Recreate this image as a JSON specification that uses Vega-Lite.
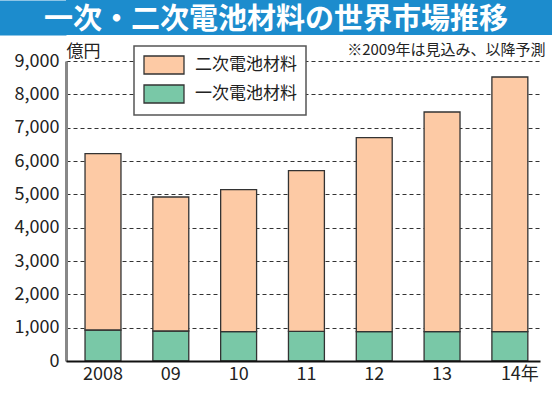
{
  "$schema": "https://vega.github.io/schema/vega-lite/v6.json",
  "background": "white",
  "padding": 0,
  "spacing": 7,
  "resolve": {"legend": {"color": "independent"}, "scale": {"color": "independent"}},
  "config": {
    "view": {"stroke": null},
    "font": "Noto Sans CJK JP",
    "legend": {"strokeWidth": 1.5}
  },
  "vconcat": [
    {
      "width": 486,
      "height": 35,
      "view": {"fill": "#1c8ccd", "stroke": null},
      "data": {"values": [{"t": "一次・二次電池材料の世界市場推移"}]},
      "mark": {"type": "text", "color": "white", "fontSize": 29, "fontWeight": "bold", "font": "Noto Sans CJK JP", "baseline": "middle", "align": "center", "dx": -33, "dy": 2},
      "encoding": {
        "text": {"field": "t", "type": "nominal"},
        "y": {
          "datum": 0.5, "type": "quantitative",
          "scale": {"domain": [0, 1], "nice": false},
          "axis": {"title": null, "labels": false, "ticks": false, "grid": false, "domain": true,
                   "domainColor": "#1c8ccd", "domainWidth": 132, "domainCap": "butt", "offset": 66}
        }
      }
    },
    {
      "width": 474,
      "height": 300,
      "data": {"values": [
        {"year": "2008", "series": "一次電池材料", "value": 930},
        {"year": "2008", "series": "二次電池材料", "value": 5290},
        {"year": "09", "series": "一次電池材料", "value": 900},
        {"year": "09", "series": "二次電池材料", "value": 4020},
        {"year": "10", "series": "一次電池材料", "value": 880},
        {"year": "10", "series": "二次電池材料", "value": 4260},
        {"year": "11", "series": "一次電池材料", "value": 890},
        {"year": "11", "series": "二次電池材料", "value": 4820},
        {"year": "12", "series": "一次電池材料", "value": 880},
        {"year": "12", "series": "二次電池材料", "value": 5820},
        {"year": "13", "series": "一次電池材料", "value": 880},
        {"year": "13", "series": "二次電池材料", "value": 6590},
        {"year": "14", "series": "一次電池材料", "value": 880},
        {"year": "14", "series": "二次電池材料", "value": 7640}
      ]},
      "mark": {"type": "bar", "stroke": "#333", "strokeWidth": 1.3},
      "encoding": {
        "x": {
          "field": "year", "type": "nominal", "sort": null,
          "scale": {"paddingInner": 0.47, "paddingOuter": 0.23, "align": 0.61},
          "axis": {
            "labelAngle": 0, "ticks": false,
            "domainColor": "#111", "domainWidth": 2, "zindex": 1,
            "labelFontSize": 18, "labelColor": "#222", "labelPadding": 4,
            "labelFont": "Noto Sans CJK JP",
            "labelExpr": "datum.value == '14' ? '14年' : datum.label",
            "labelOffset": {"condition": {"test": "datum.value == '14'", "value": 10}, "value": 0},
            "title": "※2009年は見込み、以降予測", "titleX": 479, "titleY": -307,
            "titleAlign": "right", "titleBaseline": "alphabetic", "titleAnchor": "end",
            "titleFontSize": 15, "titleFontWeight": "normal", "titleColor": "#222", "titleFont": "Noto Sans CJK JP"
          }
        },
        "y": {
          "field": "value", "type": "quantitative", "stack": "zero",
          "scale": {"domain": [0, 9000], "nice": false},
          "axis": {
            "values": [0, 1000, 2000, 3000, 4000, 5000, 6000, 7000, 8000, 9000],
            "format": ",.0f", "grid": true, "gridDash": [4, 3], "gridColor": "#333", "gridWidth": 1.2,
            "ticks": false, "domainColor": "#888", "domainWidth": 3,
            "labelFontSize": 18, "labelColor": "#222", "labelPadding": 7, "labelFont": "Noto Sans CJK JP",
            "title": "億円", "titleAngle": 0, "titleX": 0, "titleY": -5,
            "titleAlign": "left", "titleBaseline": "alphabetic",
            "titleFontSize": 17, "titleFontWeight": "normal", "titleColor": "#222", "titleFont": "Noto Sans CJK JP"
          }
        },
        "color": {
          "field": "series", "type": "nominal",
          "scale": {"domain": ["二次電池材料", "一次電池材料"], "range": ["#fdcaa5", "#79c8a7"]},
          "legend": {
            "title": null, "orient": "none", "legendX": 68, "legendY": -15,
            "symbolType": "M-1,-1L3.444,-1L3.444,1L-1,1Z", "symbolSize": 324,
            "symbolStrokeColor": "#333", "symbolStrokeWidth": 1.3, "symbolOpacity": 1,
            "labelFontSize": 17, "labelColor": "#222", "labelOffset": 32, "labelFont": "Noto Sans CJK JP",
            "rowPadding": 5, "padding": 9,
            "fillColor": "white", "strokeColor": "#555"
          }
        },
        "order": {"field": "series", "sort": "ascending"}
      }
    }
  ]
}
